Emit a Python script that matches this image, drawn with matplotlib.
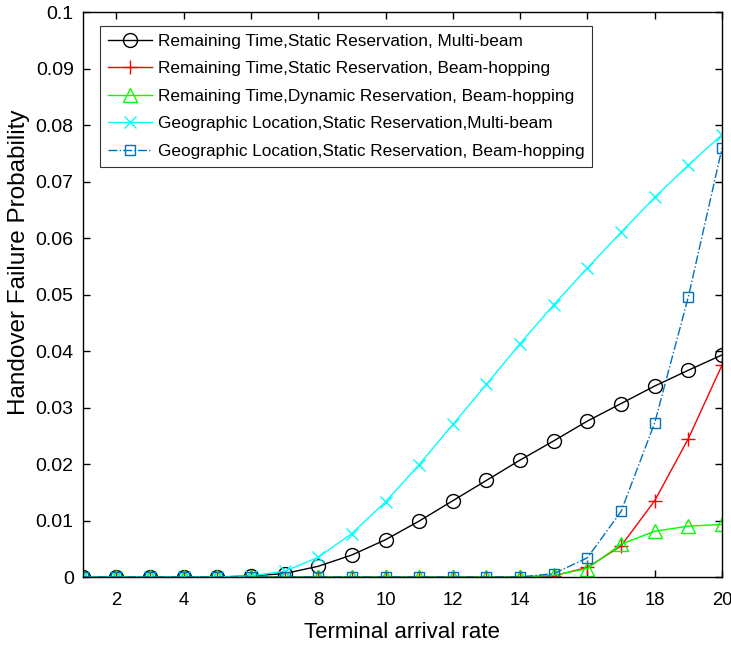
import numpy as np
import matplotlib
matplotlib.use('Agg')
import matplotlib.pyplot as plt

plt.rcParams['font.family'] = ['Liberation Sans', 'DejaVu Sans']

x = np.arange(1, 21)

rt_static_mb = [0, 0, 0, 0, 0, 0.0002, 0.0006, 0.0019, 0.0039, 0.0066, 0.0099, 0.0135,
                0.0171, 0.0207, 0.0241, 0.0276, 0.0307, 0.0338, 0.0366, 0.0393]
rt_static_bh = [0, 0, 0, 0, 0, 0, 0, 0, 0, 0, 0, 0, 0, 0, 0.0002, 0.0017, 0.0055,
                0.0135, 0.0245, 0.0375]
rt_dynamic_bh = [0, 0, 0, 0, 0, 0, 0, 0, 0, 0, 0, 0, 0, 0, 0.0003, 0.0015, 0.0058,
                 0.0081, 0.0090, 0.0093]
geo_static_mb = [0, 0, 0, 0, 0, 0.0002, 0.0010, 0.0035, 0.0077, 0.0133, 0.0199, 0.0270,
                 0.0341, 0.0413, 0.0482, 0.0547, 0.0610, 0.0672, 0.0729, 0.0783]
geo_static_bh = [0, 0, 0, 0, 0, 0, 0, 0, 0, 0, 0, 0, 0, 0, 0.0006, 0.0034, 0.0116,
                 0.0273, 0.0496, 0.0759]

labels = ['Remaining Time,Static Reservation, Multi-beam',
          'Remaining Time,Static Reservation, Beam-hopping',
          'Remaining Time,Dynamic Reservation, Beam-hopping',
          'Geographic Location,Static Reservation,Multi-beam',
          'Geographic Location,Static Reservation, Beam-hopping']

fig = plt.figure(figsize=(7.31, 6.46), dpi=100)
ax = fig.add_axes([0.1131, 0.1068, 0.8746, 0.8746])

ax.plot(x, rt_static_mb, color='black', lw=1, marker='o', ms=10, mfc='none', mew=1, label=labels[0])
ax.plot(x, rt_static_bh, color='red', lw=1, marker='+', ms=10, mew=1, label=labels[1])
ax.plot(x, rt_dynamic_bh, color='#00ff00', lw=1, marker='^', ms=10, mfc='none', mew=1, label=labels[2])
ax.plot(x, geo_static_mb, color='cyan', lw=1, marker='x', ms=8, mew=1, label=labels[3])
ax.plot(x, geo_static_bh, color='#0072BD', lw=1, ls='-.', marker='s', ms=7, mfc='none', mew=1, label=labels[4])

ax.set_xlim(1, 20)
ax.set_ylim(0, 0.1)
ax.set_xticks(np.arange(2, 21, 2))
ax.set_yticks(np.arange(0, 0.101, 0.01))
ax.set_yticklabels(['0', '0.01', '0.02', '0.03', '0.04', '0.05', '0.06', '0.07', '0.08', '0.09', '0.1'])
ax.tick_params(direction='in', top=True, right=True, length=5, width=1)
ax.tick_params(axis='x', pad=11, labelsize=13.3)
ax.tick_params(axis='y', pad=6.5, labelsize=14)
for s in ax.spines.values():
    s.set_linewidth(1)

ax.set_xlabel('Terminal arrival rate', fontsize=16, labelpad=9)
ax.set_ylabel('Handover Failure Probability', fontsize=17.5)
ax.yaxis.set_label_coords(-0.082, 0.557)

leg = ax.legend(loc='upper left', bbox_to_anchor=(0.027, 0.975), borderaxespad=0, fontsize=12.4,
                frameon=True, fancybox=False, edgecolor='black', handlelength=2.6, borderpad=0.45,
                labelspacing=0.72, handletextpad=0.3)
leg.get_frame().set_linewidth(0.8)

fig.savefig('out.png', dpi=100)
